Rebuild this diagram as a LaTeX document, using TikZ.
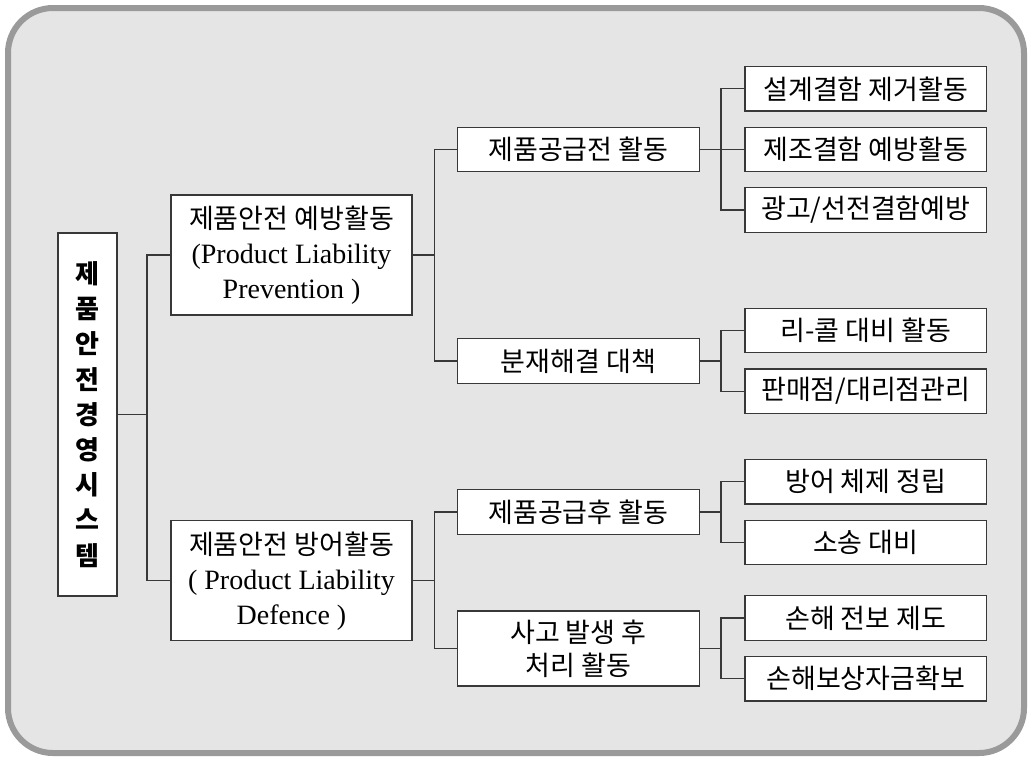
\documentclass[tikz,border=0pt]{standalone}
\usepackage{fontspec}
\setmainfont{Liberation Serif}
\newfontfamily\kr{Noto Sans CJK KR}
\definecolor{framegray}{HTML}{9A9A9A}
\definecolor{bggray}{HTML}{E5E5E5}
\definecolor{linegray}{HTML}{383838}
\tikzset{
  box/.style={draw=linegray, line width=1.2pt, fill=white, inner sep=0pt, align=center,
    font=\kr\fontsize{27}{33.3}\selectfont},
  leaf/.style={box, minimum width=241.7pt, minimum height=44.5pt},
  mid/.style={box, minimum width=242pt, minimum height=44.5pt},
  top/.style={box, minimum width=241pt, minimum height=120pt, font=\fontsize{28}{35}\selectfont},
  conn/.style={draw=linegray, line width=1.2pt},
}
\begin{document}
\begin{tikzpicture}[x=1pt, y=-1pt]
\useasboundingbox (0,0) rectangle (1032,761);
\draw[line width=6pt, draw=framegray, fill=bggray, rounded corners=45pt] (8,8) rectangle (1024,753);

\node[box, minimum width=59pt, minimum height=363pt, font=\kr\bfseries\fontsize{26}{35.2}\selectfont] (root) at (87.5,414.5)
  {제\\품\\안\\전\\경\\영\\시\\스\\템};

\node[top] (p1) at (291.5,255) {{\kr\fontsize{27}{35}\selectfont 제품안전 예방활동}\\(Product Liability\\Prevention )};
\node[top] (p2) at (291.5,580.7) {{\kr\fontsize{27}{35}\selectfont 제품안전 방어활동}\\( Product Liability\\Defence )};

\node[mid] (a1) at (578.3,149.5) {제품공급전 활동};
\node[mid] (a2) at (578.3,361) {분재해결 대책};
\node[mid] (a3) at (578.3,512) {제품공급후 활동};
\node[mid, minimum height=75pt] (a4) at (578.3,648.5) {사고 발생 후\\처리 활동};

\node[leaf] (l1) at (865.8,88.8) {설계결함 제거활동};
\node[leaf] (l2) at (865.8,149.5) {제조결함 예방활동};
\node[leaf] (l3) at (865.8,210) {광고/선전결함예방};
\node[leaf] (l4) at (865.8,330.5) {리-콜 대비 활동};
\node[leaf] (l5) at (865.8,391.2) {판매점/대리점관리};
\node[leaf] (l6) at (865.8,481.7) {방어 체제 정립};
\node[leaf] (l7) at (865.8,542.5) {소송 대비};
\node[leaf] (l8) at (865.8,618) {손해 전보 제도};
\node[leaf] (l9) at (865.8,678.7) {손해보상자금확보};

\coordinate (b1) at (147,0);
\coordinate (b2) at (434.7,0);
\coordinate (b3) at (721,0);

\draw[conn] (root.east) -- (root.east -| b1);
\draw[conn] (p1.west) -- (p1.west -| b1) -- (p2.west -| b1) -- (p2.west);

\draw[conn] (p1.east) -- (p1.east -| b2);
\draw[conn] (a1.west) -- (a1.west -| b2) -- (a2.west -| b2) -- (a2.west);
\draw[conn] (p2.east) -- (p2.east -| b2);
\draw[conn] (a3.west) -- (a3.west -| b2) -- (a4.west -| b2) -- (a4.west);

\draw[conn] (a1.east) -- (l2.west);
\draw[conn] (l1.west) -- (l1.west -| b3) -- (l3.west -| b3) -- (l3.west);
\draw[conn] (a2.east) -- (a2.east -| b3);
\draw[conn] (l4.west) -- (l4.west -| b3) -- (l5.west -| b3) -- (l5.west);
\draw[conn] (a3.east) -- (a3.east -| b3);
\draw[conn] (l6.west) -- (l6.west -| b3) -- (l7.west -| b3) -- (l7.west);
\draw[conn] (a4.east) -- (a4.east -| b3);
\draw[conn] (l8.west) -- (l8.west -| b3) -- (l9.west -| b3) -- (l9.west);
\end{tikzpicture}
\end{document}
